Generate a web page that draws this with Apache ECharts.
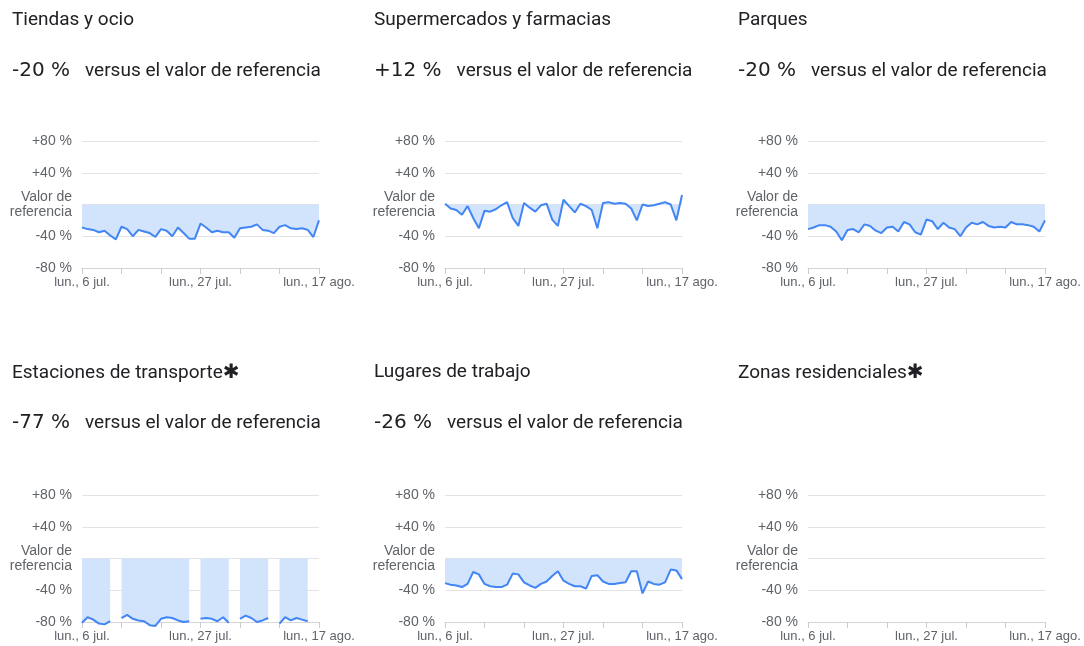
<!DOCTYPE html>
<html>
<head>
<meta charset="utf-8">
<script src="https://cdn.jsdelivr.net/npm/echarts@6/dist/echarts.min.js"></script>
<style>
  html, body { margin: 0; padding: 0; background: #fff; }
  #chart { width: 1084px; height: 646px; }
</style>
</head>
<body>
<div id="chart"></div>
<script>
// dias: lun. 6 jul. -> lun. 17 ago.
const weekdays = ['lun.', 'mar.', 'mié.', 'jue.', 'vie.', 'sáb.', 'dom.'];
const categories = [];
for (let i = 0; i < 43; i++) {
  const d = new Date(2020, 6, 6 + i);
  const mes = d.getMonth() === 6 ? 'jul.' : 'ago.';
  categories.push(weekdays[i % 7] + ', ' + d.getDate() + ' ' + mes);
}

const yTicks = [-80, -40, 0, 40, 80];
const yTickLabels = ['-80 %', '-40 %', 'Valor de\nreferencia', '+40 %', '+80 %'];

const titles = ['Tiendas y ocio', 'Supermercados y farmacias', 'Parques',
                'Estaciones de transporte', 'Lugares de trabajo', 'Zonas residenciales'];
const starred = [false, false, false, true, false, true];
const changes = ['-20 %', '+12 %', '-20 %', '-77 %', '-26 %', null];

const tiendas = [-29,-31,-32,-35,-33,-39,-44,-28,-31,-40,-32,-34,-36,-41,-31,-33,-40,-29,-36,-43,-43,-24,-29,-35,-33,-35,-35,-42,-30,-29,-28,-25,-32,-33,-36,-28,-26,-30,-31,-30,-32,-41,-20];
const supermercados = [1,-5,-7,-13,-2,-17,-30,-8,-9,-6,-1,3,-17,-27,2,-4,-9,-1,1,-19,-27,6,-2,-10,1,-2,-7,-30,2,3,1,2,1,-5,-20,0,-2,-1,1,3,0,-20,12];
const parques = [-31,-29,-26,-26,-28,-34,-45,-32,-31,-35,-25,-27,-33,-36,-29,-28,-34,-22,-25,-35,-38,-19,-21,-31,-23,-29,-31,-40,-29,-23,-25,-22,-27,-29,-28,-29,-22,-25,-25,-26,-28,-34,-20];
const transporte = [-81,-74,-77,-82,-83,-79,null,-75,-71,-76,-78,-79,-84,-85,-76,-74,-75,-78,-80,-79,null,-76,-75,-76,-79,-74,-81,null,-76,-72,-75,-80,-78,-75,null,-82,-74,-78,-75,-77,-79,null,null];
const trabajo = [-31,-33,-34,-36,-32,-17,-20,-32,-35,-36,-36,-33,-19,-20,-30,-34,-37,-32,-29,-22,-16,-28,-32,-35,-35,-38,-22,-21,-29,-32,-32,-31,-30,-16,-16,-44,-29,-32,-33,-30,-14,-15,-26];
const residenciales = [];

const seriesData = [tiendas, supermercados, parques, transporte, trabajo, residenciales];

const colLeft = [82, 445, 808];
const titleLeft = [12, 374, 738];
const rowTop = [141, 495];
const rowTitleTop = [11, 363];

const FONT = 'Roboto, sans-serif';
const AXIS_FONT = '"Liberation Sans", Arial, sans-serif';
const option = {
  animation: false,
  backgroundColor: '#fff',
  title: [], grid: [], xAxis: [], yAxis: [], series: []
};

for (let p = 0; p < 6; p++) {
  const c = p % 3, r = Math.floor(p / 3);
  option.title.push({
    left: titleLeft[c], top: rowTitleTop[r], padding: 0,
    text: starred[p] ? '{n|' + titles[p] + '}{s|✱}' : '{n|' + titles[p] + '}',
    textStyle: {
      fontWeight: 'normal',
      rich: {
        n: { fontFamily: FONT, fontSize: 19, color: '#202124', fontWeight: 'normal' },
        s: { fontFamily: 'DejaVu Sans', fontSize: 20, color: '#202124', fontWeight: 'bold' }
      }
    }
  });
  if (changes[p]) {
    option.title.push({
      left: titleLeft[c], top: rowTitleTop[r] + 50, padding: 0,
      text: '{v|' + changes[p] + '}{t|versus el valor de referencia}',
      textStyle: {
        fontWeight: 'normal',
        rich: {
          v: { fontFamily: 'DejaVu Sans', fontSize: 20, color: '#202124', fontWeight: 'normal', padding: [0, 15, 0, 0] },
          t: { fontFamily: FONT, fontSize: 19, color: '#202124', fontWeight: 'normal' }
        }
      }
    });
  }
  option.grid.push({ left: colLeft[c], top: rowTop[r], width: 237, height: 127 });
  option.xAxis.push({
    type: 'category', gridIndex: p, data: categories, boundaryGap: false,
    axisLine: { onZero: false, lineStyle: { color: '#d6d6d6' } },
    axisTick: { show: true, interval: 6, length: 6, lineStyle: { color: '#cccccc' } },
    axisLabel: {
      interval: (i) => i % 21 === 0,
      color: '#5f6368', fontFamily: AXIS_FONT, fontSize: 13, margin: 8
    },
    splitLine: { show: false }
  });
  option.yAxis.push({
    type: 'value', gridIndex: p, min: -80, max: 80, interval: 40,
    axisLine: { show: false }, axisTick: { show: false },
    splitLine: { lineStyle: { color: '#e3e3e3', width: 1 } },
    axisLabel: {
      color: '#5f6368', fontFamily: AXIS_FONT, fontSize: 14, lineHeight: 15, margin: 10,
      formatter: (v) => yTickLabels[yTicks.indexOf(v)]
    }
  });
  option.series.push({
    type: 'line', xAxisIndex: p, yAxisIndex: p, data: seriesData[p],
    showSymbol: false, connectNulls: false, clip: false,
    lineStyle: { color: '#4285f4', width: 2 },
    itemStyle: { color: '#4285f4' },
    areaStyle: { color: '#d2e3fc', opacity: 1 }
  });
}

const myChart = echarts.init(document.getElementById('chart'));
myChart.setOption(option);
</script>
</body>
</html>
